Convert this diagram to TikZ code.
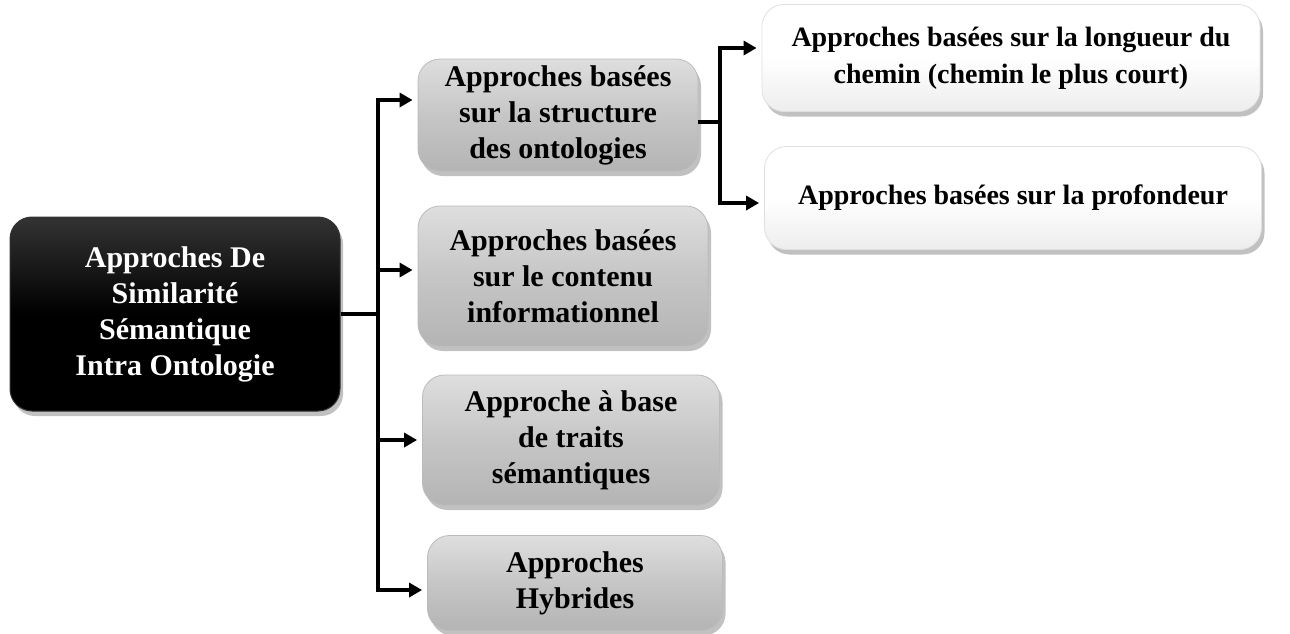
\documentclass[tikz,border=0pt]{standalone}
\usepackage{fontspec}
\setmainfont{Liberation Serif}
\usetikzlibrary{arrows.meta,shadows,positioning}
\definecolor{boxtop}{HTML}{DEDEDE}
\definecolor{boxmid}{HTML}{C6C6C6}
\definecolor{boxbot}{HTML}{B4B4B4}
\definecolor{darktop}{HTML}{333333}
\definecolor{lighttop}{HTML}{FFFFFF}
\definecolor{lightbot}{HTML}{EDEDED}
\tikzset{
  base/.style={rounded corners=22pt, align=center, font=\fontsize{30}{36}\selectfont\bfseries,
    inner sep=0pt, drop shadow={shadow xshift=3pt, shadow yshift=-5pt, opacity=.35, fill=black!70}},
  rootbox/.style={base, top color=darktop, bottom color=black, middle color=black, text=white, draw=black!80, line width=1pt},
  graybox/.style={base, top color=boxtop, bottom color=boxbot, middle color=boxmid, draw=boxbot!90, line width=.8pt},
  whitebox/.style={base, font=\fontsize{28}{37}\selectfont\bfseries, top color=lighttop, bottom color=lightbot, middle color=white, draw=black!12, line width=.8pt},
  conn/.style={line width=4pt, draw=black},
  arrowconn/.style={conn, -{Triangle[length=13pt,width=14pt]}, shorten >=5pt},
}
\begin{document}
\begin{tikzpicture}[x=1pt, y=-1pt]
  \useasboundingbox (0,0) rectangle (1290,633);

  % root node
  \node[rootbox, minimum width=330pt, minimum height=194pt] (root) at (175,314)
    {Approches De\\Similarité\\Sémantique\\Intra Ontologie};

  % second level
  \node[graybox, minimum width=280pt, minimum height=112pt] (g1) at (558,115)
    {Approches basées\\sur la structure\\des ontologies};
  \node[graybox, minimum width=290pt, minimum height=140pt] (g2) at (563,276)
    {Approches basées\\sur le contenu\\informationnel};
  \node[graybox, minimum width=297pt, minimum height=130pt] (g3) at (571,440)
    {Approche à base\\de traits\\sémantiques};
  \node[graybox, minimum width=295pt, minimum height=95pt] (g4) at (575,583)
    {Approches\\Hybrides};

  % third level
  \node[whitebox, minimum width=498pt, minimum height=107pt] (w1) at (1011,58)
    {Approches basées sur la longueur du\\chemin (chemin le plus court)};
  \node[whitebox, minimum width=497pt, minimum height=103pt] (w2) at (1013,198)
    {Approches basées sur la profondeur};

  % trunk from the root
  \coordinate (trunk) at (378,314);
  \draw[conn] (root.east) -- (trunk);
  \draw[arrowconn] (trunk) |- ([yshift=15pt]g1.west);
  \draw[arrowconn] (trunk) |- ([yshift=6pt]g2.west);
  \draw[arrowconn] (trunk) |- (g3.west);
  \draw[arrowconn] (trunk) |- ([yshift=-7pt]g4.west);

  % branch from the structure-based node
  \coordinate (branch) at (720,122);
  \draw[conn] ([yshift=-7pt]g1.east) -- (branch);
  \draw[arrowconn] (branch) |- ([yshift=10pt]w1.west);
  \draw[arrowconn] (branch) |- ([yshift=-5pt]w2.west);
\end{tikzpicture}
\end{document}
